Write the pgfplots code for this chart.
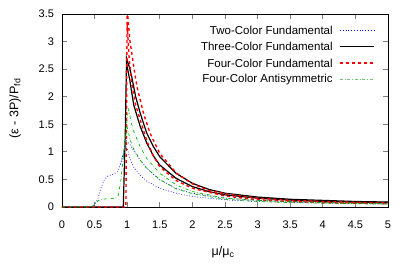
\documentclass[border=0pt]{standalone}
\usepackage{pgfplots}
\pgfplotsset{compat=1.18}
\usepackage{fontspec}
\setmainfont{Liberation Sans}
\setsansfont{Liberation Sans}
\begin{document}
\begin{tikzpicture}
\useasboundingbox (-62pt,-71pt) rectangle (345pt,207pt);
\begin{axis}[
  scale only axis, width=326pt, height=193pt,
  xmin=0, xmax=5, ymin=0, ymax=3.5,
  xtick={0,0.5,...,5}, ytick={0,0.5,...,3.5},
  xticklabels={0,0.5,1,1.5,2,2.5,3,3.5,4,4.5,5},
  yticklabels={0,0.5,1,1.5,2,2.5,3,3.5},
  tick align=inside, major tick length=5pt,
  axis line style={line width=0.9pt}, tick style={line width=0.8pt},
  ticklabel style={font=\fontsize{11}{12}\selectfont},
  xticklabel style={yshift=-10pt},
  yticklabel style={xshift=-4.5pt},
  xlabel={μ/μ\textsubscript{c}},
  ylabel={(ε - 3P)/P\textsubscript{fd}},
  label style={font=\fontsize{12.5}{14}\selectfont},
  xlabel style={at={(axis description cs:0.494,-0.233)}, anchor=center},
  ylabel style={at={(axis description cs:-0.144,0.51)}, anchor=center},
]
% Two-Color Fundamental
\addplot[blue, dotted, line width=0.7pt] coordinates {
(0,0)(0.45,0)(0.5,0.04)(0.55,0.15)(0.6,0.35)(0.65,0.5)(0.7,0.56)(0.75,0.58)(0.8,0.6)(0.85,0.64)(0.9,0.78)(0.95,1.02)(0.99,1.2)(1.05,1.12)(1.1,1.02)(1.2,0.85)(1.3,0.7)(1.5,0.49)(1.75,0.34)(2.0,0.25)(2.5,0.16)(3.0,0.12)(3.5,0.1)(4.0,0.085)(4.5,0.075)(5.0,0.065)};
\addplot[blue, dotted, line width=0.7pt] coordinates {
(0.9,0.78)(0.95,1.02)(0.99,1.1)(1.05,0.85)(1.1,0.72)(1.2,0.58)(1.3,0.47)(1.5,0.34)(1.75,0.25)(2.0,0.19)(2.5,0.13)(3.0,0.1)(3.5,0.085)(4,0.072)(4.5,0.063)(5,0.055)};
% Three-Color Fundamental
\addplot[black, line width=1.2pt] coordinates {
(0,0)(0.94,0)(0.97,1.3)(0.99,2.7)(1.03,2.55)(1.07,2.36)(1.13,2.0)(1.2,1.70)(1.3,1.34)(1.4,1.1)(1.5,0.91)(1.75,0.61)(2.0,0.43)(2.25,0.32)(2.5,0.25)(3,0.18)(3.5,0.14)(4,0.12)(4.5,0.1)(5,0.09)};
\addplot[black, line width=1.2pt] coordinates {
(0.99,2.6)(1.04,2.3)(1.1,1.85)(1.2,1.46)(1.3,1.16)(1.4,0.93)(1.5,0.76)(1.75,0.52)(2.0,0.37)(2.25,0.28)(2.5,0.22)(3,0.16)(3.5,0.125)(4,0.1)(4.5,0.09)(5,0.08)};
% Four-Color Fundamental
\addplot[red, dashed, line width=1.4pt] coordinates {
(0,0)(0.98,0)(1.0,3.6)(1.04,3.03)(1.1,2.55)(1.15,2.18)(1.25,1.70)(1.35,1.34)(1.5,0.97)(1.75,0.62)(2.0,0.42)(2.25,0.3)(2.5,0.24)(3,0.16)(3.5,0.12)(4,0.1)(4.5,0.085)(5,0.075)};
\addplot[red, dashed, line width=1.4pt] coordinates {
(1.0,3.3)(1.03,2.7)(1.07,2.24)(1.13,1.85)(1.2,1.58)(1.3,1.2)(1.4,0.93)(1.5,0.73)(1.75,0.48)(2.0,0.34)(2.5,0.2)(3,0.13)(3.5,0.1)(4,0.08)(4.5,0.07)(5,0.06)};
% Four-Color Antisymmetric
\addplot[green!70!black, dashdotted, line width=0.7pt] coordinates {
(0,0)(0.45,0)(0.5,0.05)(0.55,0.11)(0.6,0.14)(0.7,0.15)(0.8,0.16)(0.86,0.2)(0.9,0.45)(0.94,0.9)(0.98,1.4)(1.02,1.79)(1.05,1.6)(1.09,1.4)(1.2,1.09)(1.3,0.88)(1.5,0.61)(1.75,0.40)(2.0,0.28)(2.5,0.16)(3,0.12)(3.5,0.1)(4,0.08)(4.5,0.07)(5,0.06)};
\addplot[green!70!black, dashdotted, line width=0.7pt] coordinates {
(0.94,0.9)(0.98,1.3)(1.0,1.45)(1.05,1.2)(1.1,1.05)(1.2,0.85)(1.3,0.7)(1.5,0.5)(1.75,0.33)(2.0,0.24)(2.5,0.14)(3,0.1)(3.5,0.08)(4,0.07)(4.5,0.06)(5,0.05)};
% legend (gnuplot style: text, then line sample)
\begin{scope}[every node/.style={anchor=east, inner sep=0pt, font=\fontsize{11.5}{13}\selectfont}]
\node at (axis description cs:0.831,0.915) {Two-Color Fundamental};
\node at (axis description cs:0.831,0.830) {Three-Color Fundamental};
\node at (axis description cs:0.831,0.745) {Four-Color Fundamental};
\node at (axis description cs:0.831,0.660) {Four-Color Antisymmetric};
\end{scope}
\draw[blue, dotted, line width=0.8pt] (axis description cs:0.853,0.917) -- (axis description cs:0.957,0.917);
\draw[black, line width=1.2pt] (axis description cs:0.853,0.832) -- (axis description cs:0.957,0.832);
\draw[red, dashed, line width=1.4pt] (axis description cs:0.853,0.747) -- (axis description cs:0.957,0.747);
\draw[green!60!black!55, dashdotted, line width=1pt] (axis description cs:0.853,0.662) -- (axis description cs:0.957,0.662);
\end{axis}
\end{tikzpicture}
\end{document}
